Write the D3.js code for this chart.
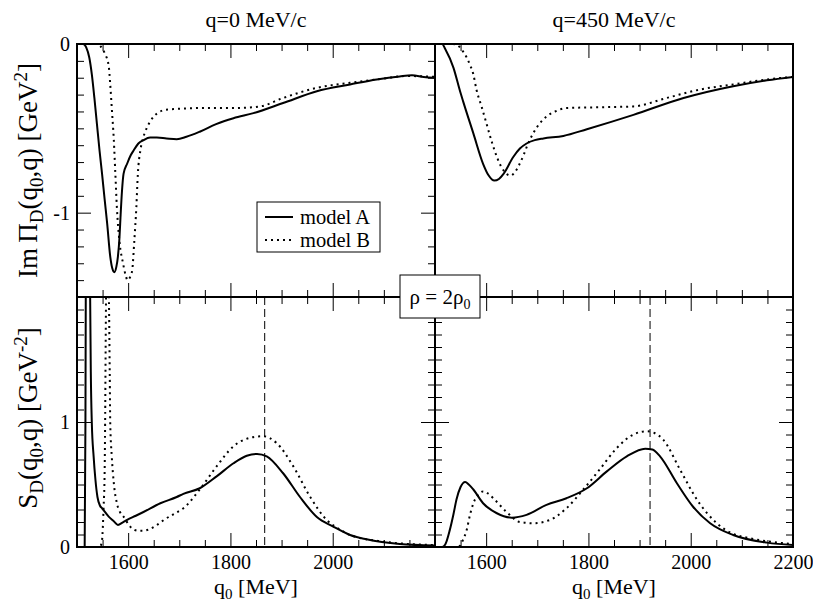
<!DOCTYPE html>
<html>
<head>
<meta charset="utf-8">
<script src="https://cdn.jsdelivr.net/npm/d3@7"></script>
<style>
  body { margin: 0; background: #fff; }
  svg { display: block; }
</style>
</head>
<body>
<svg id="chart" width="813" height="605"></svg>
<script>
// Im Pi_D(q0,q) [GeV^2], q = 0 MeV/c  -- [q0 (MeV), value]
const imPiA_q0 = [[1500,0],[1512,0],[1518,-0.02],[1524,-0.08],[1529,-0.18],[1534,-0.32],[1539,-0.475],[1544,-0.63],[1549,-0.77],[1554,-0.92],[1559,-1.065],[1565,-1.26],[1569,-1.33],[1573,-1.353],[1577,-1.32],[1580,-1.26],[1583,-1.15],[1585,-1.03],[1588,-0.87],[1591,-0.77],[1598,-0.71],[1605,-0.66],[1611,-0.63],[1620,-0.59],[1630,-0.57],[1643,-0.555],[1656,-0.555],[1675,-0.56],[1695,-0.564],[1714,-0.55],[1740,-0.52],[1772,-0.475],[1806,-0.44],[1845,-0.41],[1903,-0.35],[1969,-0.28],[2034,-0.24],[2086,-0.21],[2131,-0.192],[2155,-0.186],[2178,-0.195],[2200,-0.2]];
const imPiB_q0 = [[1500,0],[1540,0],[1545,-0.01],[1550,-0.03],[1555,-0.06],[1562,-0.13],[1565,-0.24],[1568,-0.38],[1572,-0.57],[1575,-0.77],[1578,-0.97],[1583,-1.17],[1590,-1.30],[1595,-1.37],[1599,-1.40],[1604,-1.38],[1608,-1.34],[1612,-1.17],[1616,-0.97],[1619,-0.77],[1624,-0.63],[1629,-0.56],[1634,-0.515],[1642,-0.465],[1650,-0.43],[1660,-0.405],[1673,-0.39],[1689,-0.386],[1740,-0.38],[1806,-0.38],[1858,-0.37],[1903,-0.32],[1969,-0.26],[2034,-0.23],[2099,-0.205],[2145,-0.19],[2200,-0.195]];

// Im Pi_D(q0,q) [GeV^2], q = 450 MeV/c
const imPiA_q450 = [[1500,0],[1514,0],[1520,-0.03],[1536,-0.14],[1549,-0.28],[1555,-0.34],[1575,-0.53],[1594,-0.71],[1605,-0.78],[1616,-0.81],[1625,-0.80],[1634,-0.77],[1653,-0.67],[1666,-0.62],[1679,-0.59],[1695,-0.57],[1712,-0.56],[1751,-0.545],[1797,-0.505],[1888,-0.42],[1986,-0.32],[2083,-0.25],[2149,-0.215],[2200,-0.195]];
const imPiB_q450 = [[1500,0],[1535,0],[1545,-0.01],[1555,-0.045],[1568,-0.12],[1575,-0.18],[1581,-0.27],[1591,-0.37],[1601,-0.475],[1611,-0.58],[1621,-0.67],[1630,-0.73],[1640,-0.77],[1648,-0.78],[1656,-0.76],[1664,-0.72],[1673,-0.66],[1682,-0.59],[1692,-0.53],[1705,-0.47],[1718,-0.43],[1735,-0.40],[1757,-0.38],[1822,-0.375],[1888,-0.37],[1953,-0.32],[2018,-0.27],[2083,-0.24],[2149,-0.21],[2200,-0.195]];

// S_D(q0,q) [GeV^-2], q = 0 MeV/c
const sA_q0 = [[1500,0],[1515,0],[1516.5,1.0],[1517.5,2.5],[1521,4],[1524.5,2.5],[1525.5,2.1],[1527,1.4],[1529,0.99],[1532.5,0.725],[1536,0.54],[1540,0.40],[1545,0.33],[1549,0.31],[1562,0.243],[1571,0.21],[1580,0.177],[1589,0.195],[1598,0.217],[1615,0.25],[1630,0.28],[1663,0.35],[1695,0.40],[1708,0.425],[1740,0.47],[1773,0.565],[1806,0.67],[1832,0.73],[1852,0.745],[1871,0.725],[1903,0.59],[1936,0.40],[1969,0.24],[2001,0.163],[2034,0.096],[2066,0.062],[2131,0.024],[2200,0.012]];
const sB_q0 = [[1500,0],[1540,0],[1546,0.01],[1549,0.056],[1552,0.32],[1554,0.59],[1555,0.99],[1556,1.6],[1557,2.1],[1559.5,3],[1562,2.1],[1563,1.8],[1564,1.39],[1565,0.99],[1568,0.725],[1572,0.51],[1578,0.35],[1584,0.28],[1591,0.243],[1604,0.163],[1620,0.13],[1630,0.13],[1643,0.145],[1656,0.175],[1670,0.217],[1692,0.27],[1708,0.31],[1740,0.46],[1773,0.645],[1806,0.806],[1838,0.873],[1864,0.886],[1890,0.833],[1923,0.645],[1956,0.40],[1988,0.217],[2010,0.15],[2034,0.096],[2099,0.043],[2200,0.015]];

// S_D(q0,q) [GeV^-2], q = 450 MeV/c
const sA_q450 = [[1500,0],[1514,0],[1520,0.02],[1529,0.137],[1536,0.26],[1542,0.38],[1550,0.48],[1559,0.52],[1566,0.50],[1575,0.46],[1594,0.35],[1621,0.27],[1650,0.235],[1679,0.257],[1718,0.337],[1757,0.39],[1797,0.47],[1836,0.605],[1875,0.725],[1911,0.787],[1925,0.78],[1940,0.725],[1973,0.51],[2005,0.32],[2038,0.19],[2083,0.096],[2149,0.035],[2200,0.016]];
const sB_q450 = [[1500,0],[1535,0],[1549,0.01],[1555,0.06],[1562,0.137],[1568,0.25],[1575,0.35],[1585,0.42],[1594,0.445],[1603,0.43],[1614,0.39],[1640,0.28],[1666,0.20],[1692,0.19],[1725,0.217],[1757,0.31],[1790,0.46],[1822,0.62],[1855,0.79],[1888,0.90],[1914,0.926],[1930,0.91],[1946,0.86],[1979,0.62],[2012,0.38],[2051,0.19],[2080,0.11],[2116,0.07],[2200,0.024]];

// vertical reference lines: D mass and sqrt(m^2+q^2)
const dPeak = [1867, 1920.5];

const xMajor = [1600, 1800, 2000, 2200];
const xMinor = [1550, 1650, 1700, 1750, 1850, 1900, 1950, 2050, 2100, 2150];
const imMajor = [-1, 0];
const imMinor = [-1.4, -1.3, -1.2, -1.1, -0.9, -0.8, -0.7, -0.6, -0.5, -0.4, -0.3, -0.2, -0.1];
const sMajor = [0, 1, 2];
const sMinor = [0.1, 0.2, 0.3, 0.4, 0.5, 0.6, 0.7, 0.8, 0.9, 1.1, 1.2, 1.3, 1.4, 1.5, 1.6, 1.7, 1.8, 1.9];
const imTickLabels = {"0": "0", "-1": "-1"};
const sTickLabels = {"0": "0", "1": "1"};
const titles = ["q=0 MeV/c", "q=450 MeV/c"];
const legendLabels = ["model A", "model B"];

const FONT = '"Liberation Serif", "Times New Roman", serif';
const svg = d3.select("#chart");
const pw = 358, topH = 253, botH = 250;
const leftX = [77, 435], topY = 44, botY = 297;

const x = d3.scaleLinear().domain([1500, 2200]).range([0, pw]);
const yIm = d3.scaleLinear().domain([-1.5, 0]).range([topH, 0]);
const yS = d3.scaleLinear().domain([0, 2]).range([botH, 0]);

function styleAxis(sel) {
  sel.attr("font-size", 20).attr("font-family", null);
  sel.select(".domain").remove();
  sel.selectAll(".tick line").attr("stroke", "#000").attr("stroke-width", 1);
  sel.selectAll(".tick text").attr("fill", "#000").style("font-family", FONT);
}

function panel(p) {
  const g = svg.append("g").attr("transform", `translate(${p.left},${p.top})`);
  const h = p.h, y = p.y;

  g.append("clipPath").attr("id", p.id)
    .append("rect").attr("width", pw).attr("height", h);

  if (p.vline) {
    g.append("line")
      .attr("x1", x(p.vline)).attr("x2", x(p.vline))
      .attr("y1", 0).attr("y2", h)
      .attr("stroke", "#000").attr("stroke-width", 1)
      .attr("stroke-dasharray", "8,4");
  }

  const line = d3.line().x(d => x(d[0])).y(d => y(d[1])).curve(d3.curveMonotoneX);
  const curves = g.append("g").attr("clip-path", `url(#${p.id})`);
  curves.append("path").datum(p.b).attr("d", line)
    .attr("fill", "none").attr("stroke", "#000").attr("stroke-width", 2)
    .attr("stroke-dasharray", "2,4");
  curves.append("path").datum(p.a).attr("d", line)
    .attr("fill", "none").attr("stroke", "#000").attr("stroke-width", 2);

  // x ticks, bottom with labels and top mirrored
  g.append("g").attr("transform", `translate(0,${h})`)
    .call(d3.axisBottom(x).tickValues(xMajor).tickSize(-14).tickPadding(8)
      .tickFormat(d => p.xLabels.includes(d) ? d : ""))
    .call(styleAxis);
  g.append("g").attr("transform", `translate(0,${h})`)
    .call(d3.axisBottom(x).tickValues(xMinor).tickSize(-7).tickFormat(""))
    .call(styleAxis);
  g.append("g")
    .call(d3.axisTop(x).tickValues(xMajor).tickSize(-14).tickFormat(""))
    .call(styleAxis);
  g.append("g")
    .call(d3.axisTop(x).tickValues(xMinor).tickSize(-7).tickFormat(""))
    .call(styleAxis);

  if (p.yTicks) {
    g.append("g")
      .call(d3.axisLeft(y).tickValues(p.yMajor).tickSize(-14).tickPadding(7)
        .tickFormat(d => p.yLabels ? (p.yLabels[String(d)] || "") : ""))
      .call(styleAxis);
    g.append("g")
      .call(d3.axisLeft(y).tickValues(p.yMinor).tickSize(-7).tickFormat(""))
      .call(styleAxis);
    g.append("g").attr("transform", `translate(${pw},0)`)
      .call(d3.axisRight(y).tickValues(p.yMajor).tickSize(-14).tickFormat(""))
      .call(styleAxis);
    g.append("g").attr("transform", `translate(${pw},0)`)
      .call(d3.axisRight(y).tickValues(p.yMinor).tickSize(-7).tickFormat(""))
      .call(styleAxis);
  }

  g.append("rect").attr("width", pw).attr("height", h)
    .attr("fill", "none").attr("stroke", "#000").attr("stroke-width", 2);
  return g;
}

panel({id: "c1", left: leftX[0], top: topY, h: topH, y: yIm, a: imPiA_q0, b: imPiB_q0,
  xLabels: [], yTicks: true, yMajor: imMajor, yMinor: imMinor, yLabels: imTickLabels});
panel({id: "c2", left: leftX[1], top: topY, h: topH, y: yIm, a: imPiA_q450, b: imPiB_q450,
  xLabels: [], yTicks: false, yMajor: imMajor, yMinor: imMinor});
panel({id: "c3", left: leftX[0], top: botY, h: botH, y: yS, a: sA_q0, b: sB_q0,
  xLabels: [1600, 1800, 2000], yTicks: true, yMajor: sMajor, yMinor: sMinor, yLabels: sTickLabels, vline: dPeak[0]});
panel({id: "c4", left: leftX[1], top: botY, h: botH, y: yS, a: sA_q450, b: sB_q450,
  xLabels: [1600, 1800, 2000, 2200], yTicks: true, yMajor: sMajor, yMinor: sMinor, vline: dPeak[1]});

function txt(sel) { return sel.append("text").style("font-family", FONT).attr("fill", "#000"); }

// titles
titles.forEach((t, i) => {
  txt(svg).attr("x", leftX[i] + pw / 2).attr("y", 27)
    .attr("text-anchor", "middle").attr("font-size", 22).text(t);
});

// x axis labels
leftX.forEach(lx => {
  const t = txt(svg).attr("x", lx + pw / 2).attr("y", 594)
    .attr("text-anchor", "middle").attr("font-size", 22);
  t.append("tspan").text("q");
  t.append("tspan").attr("dy", 5).attr("font-size", 15).text("0");
  t.append("tspan").attr("dy", -5).text(" [MeV]");
});

// y axis labels
function yLabel(cy, main, sub, rest, sup, end) {
  const t = txt(svg)
    .attr("transform", `translate(37,${cy}) rotate(-90)`)
    .attr("text-anchor", "middle").attr("font-size", 27);
  t.append("tspan").text(main);
  t.append("tspan").attr("dy", 6).attr("font-size", 19).text(sub);
  t.append("tspan").attr("dy", -6).text("(q");
  t.append("tspan").attr("dy", 6).attr("font-size", 19).text("0");
  t.append("tspan").attr("dy", -6).text(rest);
  t.append("tspan").attr("dy", -10).attr("font-size", 19).text(sup);
  t.append("tspan").attr("dy", 10).text(end);
}
yLabel(topY + topH / 2, "Im\u2009\u03A0", "D", ",q) [GeV", "2", "]");
yLabel(botY + botH / 2 - 4, "S", "D", ",q) [GeV", "-2", "]");

// legend
const lg = svg.append("g").attr("transform", "translate(257,202)");
lg.append("rect").attr("width", 123).attr("height", 50)
  .attr("fill", "#fff").attr("stroke", "#000").attr("stroke-width", 1);
legendLabels.forEach((name, i) => {
  lg.append("line").attr("x1", 8).attr("x2", 36).attr("y1", 15 + i * 23).attr("y2", 15 + i * 23)
    .attr("stroke", "#000").attr("stroke-width", 2)
    .attr("stroke-dasharray", i === 1 ? "2,4" : null);
  txt(lg).attr("x", 43).attr("y", 21.5 + i * 23).attr("font-size", 20.5).text(name);
});

// density box
const rb = svg.append("g").attr("transform", "translate(400,275)");
rb.append("rect").attr("width", 80).attr("height", 43)
  .attr("fill", "#fff").attr("stroke", "#000").attr("stroke-width", 1);
const rt = txt(rb).attr("x", 40).attr("y", 29).attr("text-anchor", "middle").attr("font-size", 21);
rt.append("tspan").text("\u03C1 = 2\u03C1");
rt.append("tspan").attr("dy", 5).attr("font-size", 14).text("0");
</script>
</body>
</html>
